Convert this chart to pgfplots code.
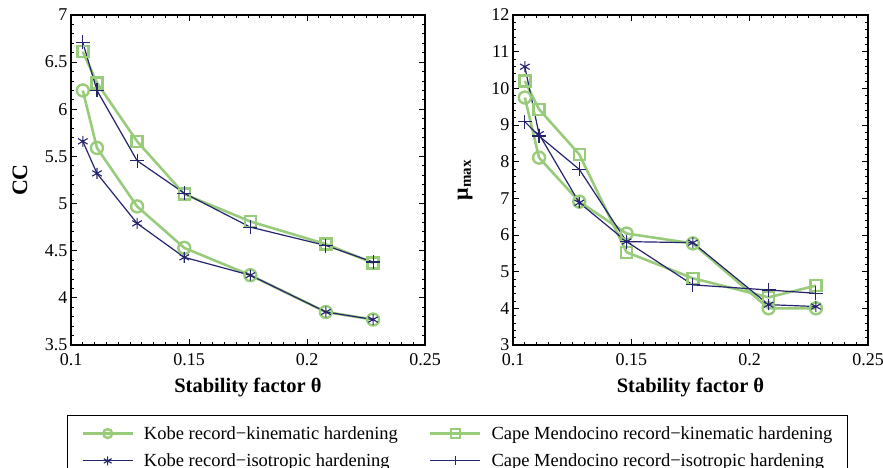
\documentclass[border=0pt]{standalone}
\usepackage{pgfplots}
\pgfplotsset{compat=1.18}
\usepackage{fontspec}
\setmainfont{Liberation Serif}
\definecolor{kgreen}{RGB}{153,204,122}
\definecolor{knavy}{RGB}{35,35,110}
\pgfplotsset{
  myaxis/.style={
    scale only axis, width=354pt, height=330pt,
    xmin=0.1, xmax=0.25, xtick={0.1,0.15,0.2,0.25},
    xticklabels={\textrm{0.1},\textrm{0.15},\textrm{0.2},\textrm{0.25}},
    minor x tick num=9, minor y tick num=4,
    tick align=inside, xtick pos=both, ytick pos=both,
    major tick length=6pt, minor tick length=3pt,
    every tick/.style={black, line width=0.8pt},
    axis line style={line width=1.2pt},
    tick label style={font=\fontsize{18}{20}\selectfont\rmfamily},
    xticklabel style={yshift=-5pt},
    /pgf/number format/assume math mode=true,
    xlabel={\textbf{Stability factor θ}},
    every axis x label/.style={at={(axis description cs:0.5,-0.13)}, anchor=center, font=\fontsize{20.5}{24}\selectfont},
    legend image code/.code={\draw[mark repeat=2,mark phase=2,#1,mark size=4.5pt] plot coordinates {(0pt,0pt) (25pt,0pt) (50pt,0pt)};},
  },
  gk/.style={color=kgreen, line width=2.6pt, mark options={solid, line width=2.4pt}},
  nv/.style={color=knavy, line width=1.2pt, mark options={solid, line width=1.1pt}},
}
\begin{document}
\begin{tikzpicture}
\path[use as bounding box] (0,0) rectangle (883pt,468pt);
\begin{axis}[myaxis,
  at={(71pt,123pt)}, anchor=south west,
  ymin=3.5, ymax=7, ytick={3.5,4,4.5,5,5.5,6,6.5,7},
  yticklabels={\textrm{3.5},\textrm{4},\textrm{4.5},\textrm{5},\textrm{5.5},\textrm{6},\textrm{6.5},\textrm{7}},
  ylabel={\textbf{CC}},
  every axis y label/.style={at={(axis description cs:-0.144,0.5)}, rotate=90, anchor=center, font=\fontsize{22}{26}\selectfont},
  legend columns=2,
  legend cell align=left,
  legend style={at={(axis description cs:-0.0113,-0.2121)}, anchor=north west,
    draw=black, line width=0.8pt, inner xsep=14pt, inner ysep=10pt,
    font=\fontsize{18.5}{22}\selectfont, row sep=11pt,
    nodes={inner sep=1pt}},
  /tikz/every odd column/.append style={column sep=9pt},
  /tikz/every even column/.append style={column sep=30pt},
]
\addplot[gk, mark=o, mark size=6pt] coordinates {(0.105,6.20) (0.111,5.59) (0.128,4.97) (0.148,4.53) (0.176,4.24) (0.208,3.85) (0.228,3.77)};
\addlegendentry{Kobe record−kinematic hardening}
\addplot[gk, mark=square, mark size=5.5pt] coordinates {(0.105,6.61) (0.111,6.28) (0.128,5.66) (0.148,5.10) (0.176,4.81) (0.208,4.57) (0.228,4.37)};
\addlegendentry{Cape Mendocino record−kinematic hardening}
\addplot[nv, mark=asterisk, mark size=5.5pt] coordinates {(0.105,5.66) (0.111,5.32) (0.128,4.79) (0.148,4.43) (0.176,4.24) (0.208,3.85) (0.228,3.77)};
\addlegendentry{Kobe record−isotropic hardening}
\addplot[nv, mark=+, mark size=7pt] coordinates {(0.105,6.71) (0.111,6.20) (0.128,5.455) (0.148,5.11) (0.176,4.75) (0.208,4.555) (0.228,4.38)};
\addlegendentry{Cape Mendocino record−isotropic hardening}
\end{axis}
\begin{axis}[myaxis,
  at={(513pt,123pt)}, anchor=south west, width=355pt,
  ymin=3, ymax=12, ytick={3,4,...,12},
  yticklabels={\textrm{3},\textrm{4},\textrm{5},\textrm{6},\textrm{7},\textrm{8},\textrm{9},\textrm{10},\textrm{11},\textrm{12}},
  ylabel={\textbf{μ\textsubscript{\fontsize{15}{17}\selectfont max}}},
  every axis y label/.style={at={(axis description cs:-0.135,0.5)}, rotate=90, anchor=center, font=\fontsize{22}{26}\selectfont},
]
\addplot[gk, mark=o, mark size=6pt] coordinates {(0.105,9.75) (0.111,8.11) (0.128,6.91) (0.148,6.04) (0.176,5.77) (0.208,4.00) (0.228,4.00)};
\addplot[gk, mark=square, mark size=5.5pt] coordinates {(0.105,10.20) (0.111,9.43) (0.128,8.20) (0.148,5.53) (0.176,4.82) (0.208,4.30) (0.228,4.62)};
\addplot[nv, mark=asterisk, mark size=5.5pt] coordinates {(0.105,10.59) (0.111,8.75) (0.128,6.88) (0.148,5.82) (0.176,5.79) (0.208,4.10) (0.228,4.05)};
\addplot[nv, mark=+, mark size=7pt] coordinates {(0.105,9.09) (0.111,8.70) (0.128,7.79) (0.148,5.82) (0.176,4.64) (0.208,4.50) (0.228,4.41)};
\end{axis}
\end{tikzpicture}
\end{document}
